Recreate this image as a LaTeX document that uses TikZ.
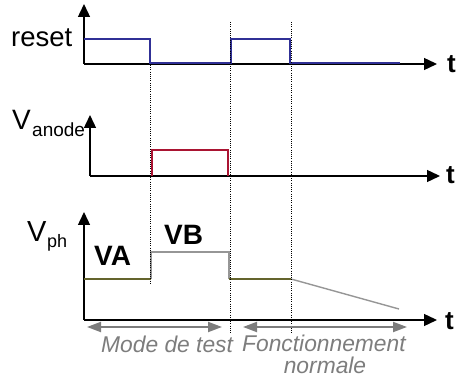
\documentclass[tikz,border=0pt]{standalone}
\usepackage{fontspec}
\setmainfont{Liberation Sans}
\usetikzlibrary{arrows.meta}
\definecolor{sigblue}{RGB}{48,48,150}
\definecolor{sigred}{RGB}{170,20,50}
\definecolor{sigolive}{RGB}{100,100,45}
\definecolor{siggray}{RGB}{150,150,150}
\definecolor{txtgray}{RGB}{125,125,125}
\begin{document}
\begin{tikzpicture}[x=1pt,y=-1pt,
  axis/.style={line width=1.4pt,-{Triangle[length=13pt,width=12pt]}},
  sig/.style={line width=1.8pt},
  guide/.style={line width=0.9pt,dash pattern=on 1pt off 1.2pt},
  span/.style={line width=2pt,draw=txtgray,{Triangle[length=14pt,width=10pt]}-{Triangle[length=14pt,width=10pt]}},
  lbl/.style={inner sep=0pt,anchor=base west},
  tlbl/.style={lbl,font=\fontsize{26}{26}\selectfont\bfseries},
  modetxt/.style={inner sep=0pt,font=\fontsize{22.8}{22.8}\selectfont\itshape,text=txtgray}]
\useasboundingbox (0,0) rectangle (459,387);

% ---- reset ----
\coordinate (r0) at (84,64);
\coordinate (rtop) at (84,4);
\coordinate (rend) at (437,64);
\draw[axis] (r0) -- (rtop);
\draw[axis] (r0) -- (rend);
\draw[sig,sigblue] (84,39) -- (150,39) -- (150,63) -- (231,63) -- (231,39) -- (290,39) -- (290,63) -- (400,63);
\node[lbl,font=\fontsize{27.5}{27.5}\selectfont] (reset) at (11,47) {reset};
\node[tlbl] (t1) at (447,73) {t};

% ---- Vanode ----
\coordinate (a0) at (90,176);
\coordinate (atop) at (90,115);
\coordinate (aend) at (440,176);
\draw[axis] (a0) -- (atop);
\draw[axis] (a0) -- (aend);
\draw[sig,sigred] (152,176) -- (152,150) -- (228,150) -- (228,176);
\node[lbl,font=\fontsize{28}{28}\selectfont] (va) at (12,130) {V};
\node[lbl,font=\fontsize{19}{19}\selectfont] (vasub) at (32,137) {anode};
\node[tlbl] (t2) at (446,184) {t};

% ---- Vph ----
\coordinate (p0) at (84,320);
\coordinate (ptop) at (84,212);
\coordinate (pend) at (437,320);
\draw[axis] (p0) -- (ptop);
\draw[axis] (p0) -- (pend);
\draw[sig,sigolive] (84,279) -- (151,279);
\draw[sig,siggray] (151,279) -- (151,252) -- (229,252) -- (229,279);
\draw[sig,sigolive] (229,279) -- (291,279);
\draw[line width=1.4pt,siggray] (291,279) -- (399,309);
\node[lbl,font=\fontsize{29}{29}\selectfont] (vp) at (27,242) {V};
\node[lbl,font=\fontsize{18}{18}\selectfont] (vpsub) at (47,248) {ph};
\node[lbl,font=\fontsize{28}{28}\selectfont\bfseries] (VA) at (94,266) {VA};
\node[lbl,font=\fontsize{28}{28}\selectfont\bfseries] (VB) at (164,245) {VB};
\node[tlbl] (t3) at (445,330) {t};

% ---- guides ----
\draw[guide] (150,65) -- (150,283);
\draw[guide] (230,22) -- (230,333);
\draw[guide] (291,22) -- (291,333);

% ---- spans ----
\coordinate (m1) at (87,327);
\coordinate (m2) at (222,327);
\coordinate (f1) at (243,327);
\coordinate (f2) at (407,327);
\draw[span] (m1) -- (m2);
\draw[span] (f1) -- (f2);
\node[modetxt,anchor=base west] (mode) at (101,353) {Mode de test};
\node[modetxt,anchor=base west] (fonc) at (242,352) {Fonctionnement};
\node[modetxt,anchor=base] (norm) at (325,374) {normale};
\end{tikzpicture}
\end{document}
